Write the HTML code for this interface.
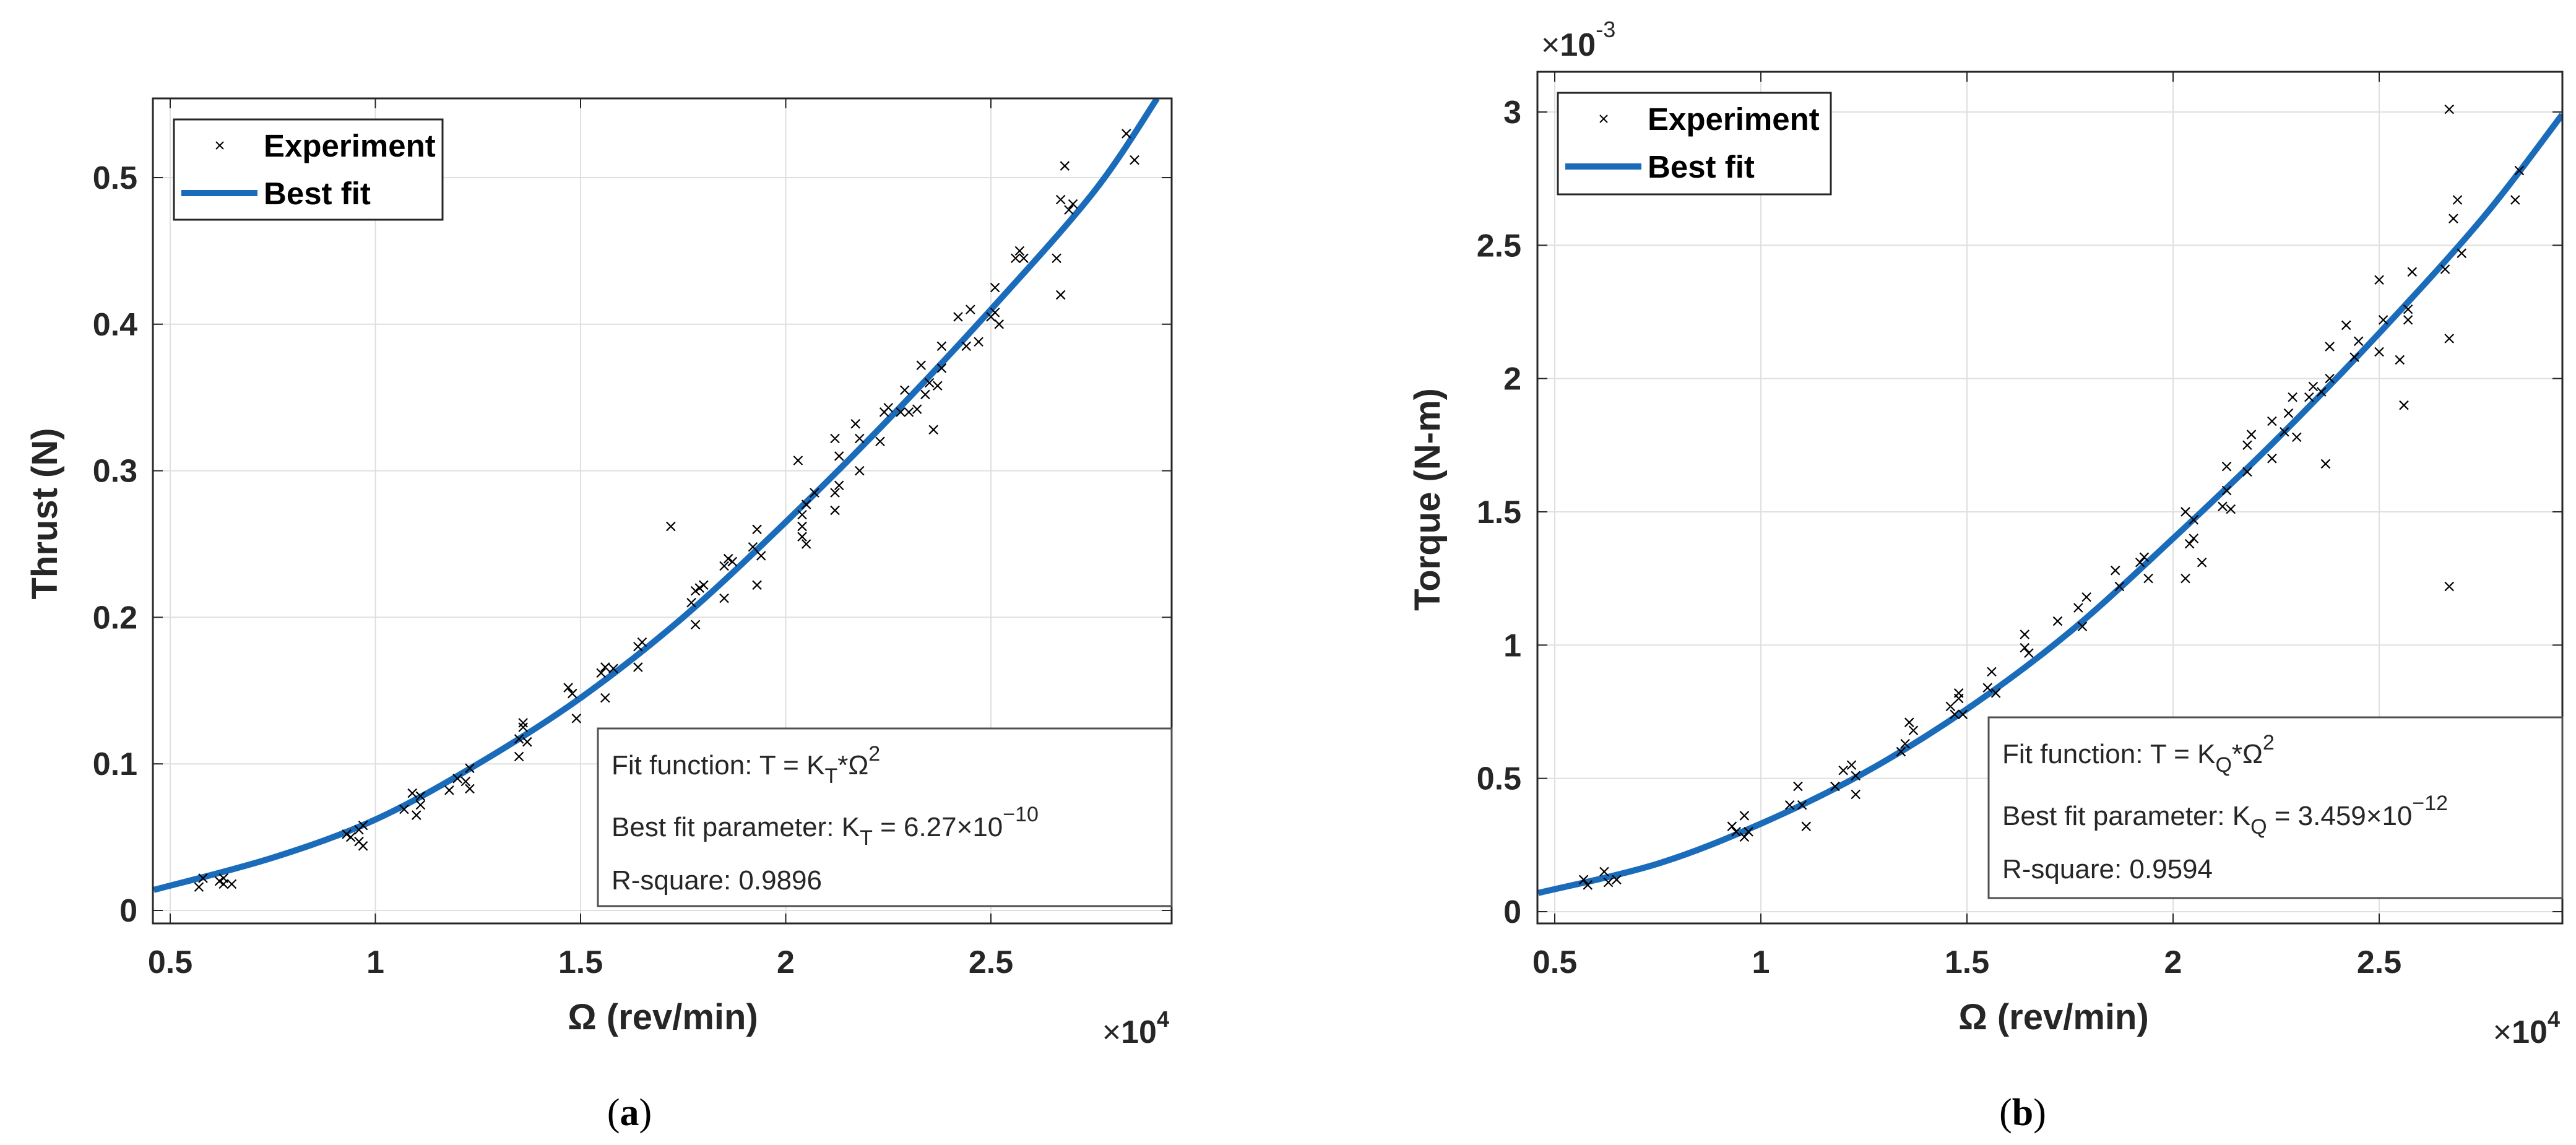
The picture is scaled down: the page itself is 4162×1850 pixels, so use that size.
<!DOCTYPE html>
<html><head><meta charset="utf-8"><style>
html,body{margin:0;padding:0;background:#fff;}
svg{display:block;}
text{font-family:"Liberation Sans",sans-serif;}
.tick{font-weight:bold;font-size:52px;fill:#262626;}
.lab{font-weight:bold;font-size:58px;fill:#262626;}
.leg{font-weight:bold;font-size:51px;fill:#000;}
.ann{font-size:44px;fill:#262626;}
.cap{font-family:"Liberation Serif",serif;font-size:62px;fill:#000;}
</style></head><body>
<svg id="fig" width="4162" height="1850" viewBox="0 0 4162 1850" xmlns="http://www.w3.org/2000/svg"></svg>
<script>
// ---- Chart (a) data: Thrust ----
const thrustOmega = [0.57,0.58,0.62,0.63,0.63,0.65,0.93,0.94,0.96,0.97,0.96,0.97,1.07,1.09,1.1,1.11,1.11,1.18,1.2,1.22,1.23,1.23,1.35,1.35,1.36,1.37,1.36,1.47,1.48,1.49,1.55,1.56,1.56,1.58,1.64,1.64,1.65,1.72,1.77,1.78,1.78,1.79,1.8,1.85,1.85,1.86,1.87,1.92,1.93,1.93,1.94,2.03,2.04,2.04,2.04,2.05,2.05,2.07,2.12,2.12,2.12,2.13,2.13,2.17,2.18,2.18,2.23,2.24,2.25,2.28,2.29,2.3,2.32,2.33,2.34,2.35,2.36,2.37,2.38,2.38,2.42,2.44,2.45,2.47,2.5,2.51,2.52,2.51,2.56,2.57,2.58,2.66,2.67,2.67,2.68,2.69,2.7,2.83,2.85];
const thrustValues = [0.016,0.022,0.02,0.018,0.022,0.018,0.052,0.05,0.047,0.044,0.055,0.058,0.069,0.08,0.065,0.072,0.078,0.082,0.09,0.088,0.083,0.097,0.105,0.117,0.125,0.115,0.128,0.152,0.148,0.131,0.162,0.145,0.166,0.165,0.166,0.18,0.183,0.262,0.21,0.195,0.218,0.22,0.222,0.213,0.235,0.24,0.238,0.248,0.26,0.222,0.242,0.307,0.27,0.262,0.255,0.25,0.277,0.285,0.322,0.273,0.285,0.31,0.29,0.332,0.322,0.3,0.32,0.34,0.343,0.34,0.355,0.34,0.342,0.372,0.352,0.36,0.328,0.358,0.385,0.37,0.405,0.385,0.41,0.388,0.405,0.425,0.4,0.408,0.445,0.45,0.445,0.445,0.485,0.42,0.508,0.478,0.482,0.53,0.512];
const thrustFitOmega = [0.46,0.75,1,1.25,1.5,1.75,2,2.25,2.5,2.75,2.905];
const thrustFitValues = [0.014,0.036,0.062,0.1,0.145,0.2,0.265,0.335,0.41,0.49,0.554];
const thrustYTicks = [0,0.1,0.2,0.3,0.4,0.5];
const thrustYTickLabels = ["0","0.1","0.2","0.3","0.4","0.5"];
// ---- Chart (b) data: Torque (x10^-3) ----
const torqueOmega = [0.57,0.58,0.62,0.63,0.65,0.93,0.94,0.96,0.96,0.97,1.07,1.09,1.1,1.11,1.18,1.2,1.22,1.23,1.23,1.34,1.35,1.36,1.37,1.46,1.47,1.48,1.48,1.49,1.55,1.56,1.57,1.64,1.64,1.65,1.72,1.77,1.78,1.79,1.86,1.87,1.92,1.93,1.94,2.03,2.03,2.04,2.05,2.05,2.07,2.12,2.13,2.13,2.14,2.18,2.18,2.19,2.24,2.24,2.27,2.28,2.29,2.3,2.33,2.34,2.36,2.37,2.38,2.38,2.42,2.44,2.45,2.5,2.51,2.5,2.55,2.56,2.57,2.57,2.58,2.66,2.67,2.67,2.67,2.68,2.69,2.7,2.83,2.84];
const torqueValues = [0.12,0.1,0.15,0.11,0.12,0.32,0.3,0.36,0.28,0.3,0.4,0.47,0.4,0.32,0.47,0.53,0.55,0.44,0.51,0.6,0.63,0.71,0.68,0.77,0.74,0.8,0.82,0.74,0.84,0.9,0.82,0.99,1.04,0.97,1.09,1.14,1.07,1.18,1.28,1.22,1.31,1.33,1.25,1.5,1.25,1.38,1.47,1.4,1.31,1.52,1.58,1.67,1.51,1.65,1.75,1.79,1.7,1.84,1.8,1.87,1.93,1.78,1.93,1.97,1.95,1.68,2.12,2.0,2.2,2.08,2.14,2.37,2.22,2.1,2.07,1.9,2.22,2.26,2.4,2.41,3.01,2.15,1.22,2.6,2.67,2.47,2.67,2.78];
const torqueFitOmega = [0.46,0.75,1,1.25,1.5,1.75,2,2.25,2.5,2.75,2.944];
const torqueFitValues = [0.07,0.18,0.33,0.52,0.76,1.05,1.4,1.77,2.17,2.6,2.99];
const torqueYTicks = [0,0.5,1,1.5,2,2.5,3];
const torqueYTickLabels = ["0","0.5","1","1.5","2","2.5","3"];
const xTicks = [0.5,1,1.5,2,2.5];
const xTickLabels = ["0.5","1","1.5","2","2.5"];

const NS = "http://www.w3.org/2000/svg";
const svg = document.getElementById("fig");
function mk(tag, attrs, parent, txt){
  const e = document.createElementNS(NS, tag);
  for (const k in attrs) e.setAttribute(k, attrs[k]);
  if (txt !== undefined) e.textContent = txt;
  (parent || svg).appendChild(e);
  return e;
}
function smoothPath(pts){
  let d = "M" + pts[0][0] + "," + pts[0][1];
  for (let i = 0; i < pts.length - 1; i++){
    const p0 = pts[i-1] || pts[i], p1 = pts[i], p2 = pts[i+1], p3 = pts[i+2] || p2;
    const c1 = [p1[0] + (p2[0]-p0[0])/6, p1[1] + (p2[1]-p0[1])/6];
    const c2 = [p2[0] - (p3[0]-p1[0])/6, p2[1] - (p3[1]-p1[1])/6];
    d += " C" + c1.join(",") + " " + c2.join(",") + " " + p2.join(",");
  }
  return d;
}

function drawChart(cfg){
  const g = mk("g", {});
  
  
  const L = cfg.L, R = cfg.R, T = cfg.T, B = cfg.B;
  const xs = v => cfg.x0px + (v - 0.5) * cfg.xPer;
  const ys = v => cfg.y0px - v * cfg.yPer;
  mk("rect", {x:L, y:T, width:R-L, height:B-T, fill:"#fff"}, g);
  // grid
  xTicks.forEach((t, i) => {
    const gl = mk("line", {x1:xs(t), x2:xs(t), y1:T, y2:B, stroke:"#dfdfdf", "stroke-width":2}, g);
    
    
    mk("line", {x1:xs(t), x2:xs(t), y1:B, y2:B-16, stroke:"#262626", "stroke-width":2}, g);
    mk("line", {x1:xs(t), x2:xs(t), y1:T, y2:T+16, stroke:"#262626", "stroke-width":2}, g);
    const tl = mk("text", {x:xs(t), y:B+80, "text-anchor":"middle", class:"tick"}, g, xTickLabels[i]);
    
    
  });
  cfg.yTicks.forEach((t, i) => {
    const gl = mk("line", {x1:L, x2:R, y1:ys(t), y2:ys(t), stroke:"#dfdfdf", "stroke-width":2}, g);
    
    
    mk("line", {x1:L, x2:L+16, y1:ys(t), y2:ys(t), stroke:"#262626", "stroke-width":2}, g);
    mk("line", {x1:R, x2:R-16, y1:ys(t), y2:ys(t), stroke:"#262626", "stroke-width":2}, g);
    const tl = mk("text", {x:cfg.yLabX, y:ys(t)+18, "text-anchor":"end", class:"tick"}, g, cfg.yTickLabels[i]);
    
    
  });
  // clip
  const cp = mk("clipPath", {id:cfg.name+"-clip"}, g);
  mk("rect", {x:L, y:T, width:R-L, height:B-T}, cp);
  // fit curve
  const pts = cfg.fitX.map((v, i) => [xs(v), ys(cfg.fitY[i])]);
  const fit = mk("path", {d:smoothPath(pts), fill:"none", stroke:"#1a6cba", "stroke-width":10, "clip-path":"url(#"+cfg.name+"-clip)"}, g);
  
  
  // points
  cfg.px.forEach((v, i) => {
    const cx = xs(v), cy = ys(cfg.py[i]), s = 7;
    const m = mk("path", {d:`M${cx-s},${cy-s}L${cx+s},${cy+s}M${cx-s},${cy+s}L${cx+s},${cy-s}`, stroke:"#000", "stroke-width":2.2, fill:"none"}, g);
    
    
  });
  // axes box
  const box = mk("rect", {x:L, y:T, width:R-L, height:B-T, fill:"none", stroke:"#262626", "stroke-width":3}, g);
  
  
  // legend
  const lg = mk("g", {}, g);
  
  
  const lb = cfg.leg;
  mk("rect", {x:lb.x, y:lb.y, width:lb.w, height:lb.h, fill:"#fff", stroke:"#262626", "stroke-width":3}, lg);
  const mx = lb.x + 74, my = lb.y + 42;
  const le1 = mk("g", {}, lg);
  
  
  mk("path", {d:`M${mx-6},${my-6}L${mx+6},${my+6}M${mx-6},${my+6}L${mx+6},${my-6}`, stroke:"#000", "stroke-width":2}, le1);
  mk("text", {x:lb.x+145, y:my+18, class:"leg"}, le1, "Experiment");
  const le2 = mk("g", {}, lg);
  
  
  mk("line", {x1:lb.x+12, x2:lb.x+135, y1:lb.y+119, y2:lb.y+119, stroke:"#1a6cba", "stroke-width":10}, le2);
  mk("text", {x:lb.x+145, y:lb.y+137, class:"leg"}, le2, "Best fit");
  // annotation box
  const ab = cfg.ann;
  const ag = mk("g", {}, g);
  
  
  mk("rect", {x:ab.x, y:ab.y, width:ab.w, height:ab.h, fill:"#fff", stroke:"#505050", "stroke-width":3}, ag);
  const tx = ab.x + 22;
  const t1 = mk("text", {x:tx, y:ab.y+74, class:"ann"}, ag);
  t1.innerHTML = 'Fit function: T = K<tspan dy="14" font-size="34">'+cfg.sub+'</tspan><tspan dy="-14">*Ω</tspan><tspan dy="-22" font-size="34">2</tspan>';
  const t2 = mk("text", {x:tx, y:ab.y+174, class:"ann"}, ag);
  t2.innerHTML = 'Best fit parameter: K<tspan dy="14" font-size="34">'+cfg.sub+'</tspan><tspan dy="-14"> = '+cfg.kval+'×10</tspan><tspan dy="-24" font-size="34">−'+cfg.kexp+'</tspan>';
  mk("text", {x:tx, y:ab.y+260, class:"ann"}, ag, "R-square: " + cfg.r2);
  // labels
  const xl = mk("text", {x:cfg.xLab[0], y:cfg.xLab[1], "text-anchor":"middle", class:"lab"}, g, "Ω (rev/min)");
  
  
  const yl = mk("text", {x:cfg.yLab[0], y:cfg.yLab[1], "text-anchor":"middle", class:"lab", transform:`rotate(-90 ${cfg.yLab[0]} ${cfg.yLab[1]})`}, g, cfg.yTitle);
  
  
  const xe = mk("text", {x:R-4, y:cfg.xLab[1]+22, "text-anchor":"end", class:"tick", "font-weight":"bold"}, g);
  xe.innerHTML = '<tspan font-weight="normal">×</tspan>10<tspan dy="-26" font-size="36">4</tspan>';
  
  
  const cap = mk("text", {x:cfg.capX, y:1818, "text-anchor":"middle", class:"cap"}, g);
  cap.innerHTML = '(<tspan font-weight="bold">'+cfg.cap+'</tspan>)';
  
  
  return g;
}

drawChart({name:"thrust-chart", L:247, R:1893, T:159, B:1492, x0px:275, xPer:663, y0px:1471, yPer:2368,
  yTicks:thrustYTicks, yTickLabels:thrustYTickLabels, yLabX:222,
  fitX:thrustFitOmega, fitY:thrustFitValues, px:thrustOmega, py:thrustValues,
  leg:{x:281, y:193, w:434, h:162}, ann:{x:966, y:1177, w:927, h:287},
  sub:"T", kval:"6.27", kexp:"10", r2:"0.9896",
  xLab:[1071,1663], yLab:[92,830], yTitle:"Thrust (N)", capX:1017, cap:"a"});

drawChart({name:"torque-chart", L:2484, R:4140, T:116, B:1492, x0px:2512, xPer:666, y0px:1473, yPer:430.7,
  yTicks:torqueYTicks, yTickLabels:torqueYTickLabels, yLabX:2458,
  fitX:torqueFitOmega, fitY:torqueFitValues, px:torqueOmega, py:torqueValues,
  leg:{x:2517, y:150, w:441, h:164}, ann:{x:3213, y:1159, w:927, h:292},
  sub:"Q", kval:"3.459", kexp:"12", r2:"0.9594",
  xLab:[3318,1663], yLab:[2326,807], yTitle:"Torque (N-m)", capX:3268, cap:"b"});

const ye = mk("text", {x:2490, y:90, class:"tick"});
ye.innerHTML = '<tspan font-weight="normal">×</tspan>10<tspan dy="-30" font-size="36" font-weight="normal">-3</tspan>';


</script>
</body></html>
